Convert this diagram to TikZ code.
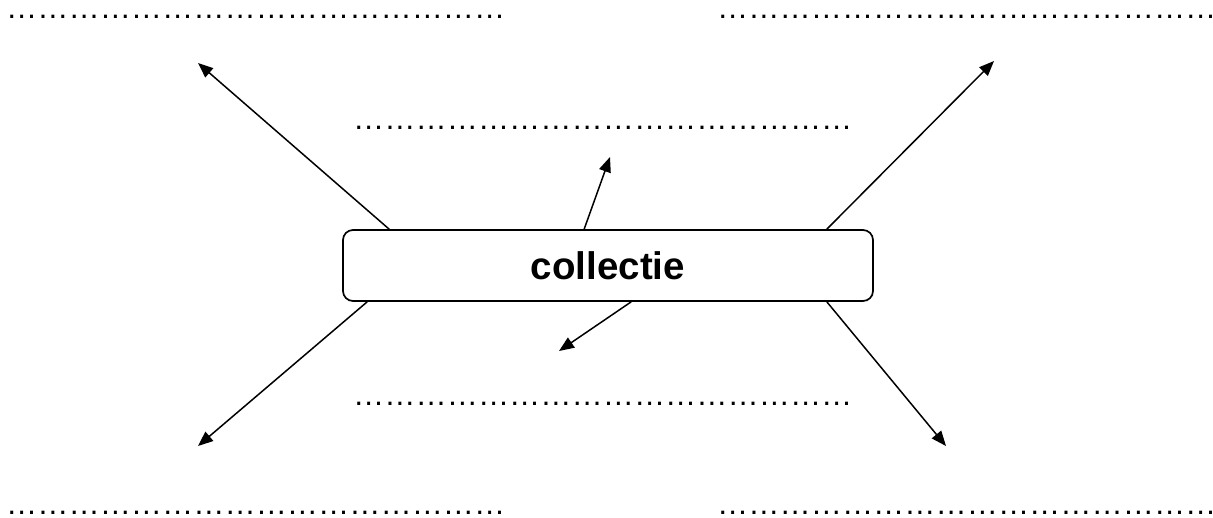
\documentclass[tikz,border=0pt]{standalone}
\usepackage{fontspec}
\setmainfont{Liberation Sans}
\usetikzlibrary{arrows.meta}
\newcommand{\fourell}{\char"2026\char"2026\char"2026\char"2026}
\newcommand{\dotline}{\fourell\fourell\fourell\fourell}
\begin{document}
\begin{tikzpicture}[x=1pt,y=-1pt,
  dots/.style={anchor=base west,inner sep=0pt,text height=4pt,text depth=0pt,font=\fontsize{31.2}{34}\selectfont},
  box/.style={draw,line width=1.7pt,rounded corners=10pt,minimum width=530pt,minimum height=71pt,inner sep=0pt,font=\fontsize{38.5}{40}\selectfont\bfseries},
  arr/.style={line width=1.5pt,-{Triangle[length=15pt,width=12pt]}}]
\useasboundingbox (0,0) rectangle (1213,517);
\node[dots] (tl) at (6,18) {\dotline};
\node[dots] (tr) at (717,18) {\dotline};
\node[dots] (mt) at (353,129) {\dotline};
\node[dots] (mb) at (353,405) {\dotline};
\node[dots] (bl) at (6,514.5) {\dotline};
\node[dots] (br) at (717,514.5) {\dotline};
\node[box] (c) at (608,265.5) {collectie};
\coordinate (e1) at (198,63);
\coordinate (e2) at (610,157);
\coordinate (e3) at (994,61);
\coordinate (e4) at (198,446);
\coordinate (e5) at (559,351);
\coordinate (e6) at (946,446);
\draw[arr] ([xshift=47pt]c.north west) -- (e1);
\draw[arr] ([xshift=242pt]c.north west) -- (e2);
\draw[arr] ([xshift=-47pt]c.north east) -- (e3);
\draw[arr] ([xshift=25pt]c.south west) -- (e4);
\draw[arr] ([xshift=289pt]c.south west) -- (e5);
\draw[arr] ([xshift=-47pt]c.south east) -- (e6);
\end{tikzpicture}
\end{document}
